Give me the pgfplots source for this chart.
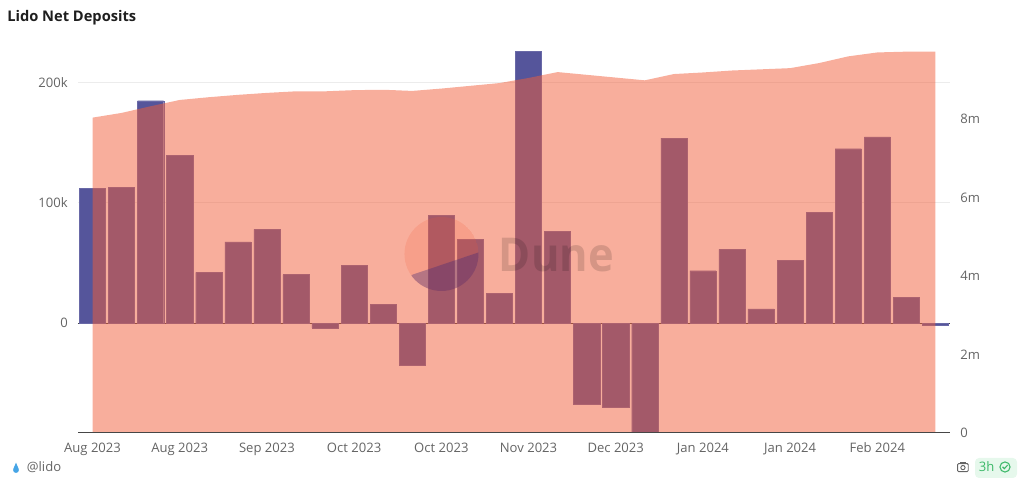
\documentclass[border=0pt]{standalone}
\usepackage{fontspec}
\setmainfont{Open Sans}
\usepackage{pgfplots}
\pgfplotsset{compat=1.18}
\usepackage{pgfplotstable}
\definecolor{barblue}{RGB}{85,85,155}
\definecolor{areacol}{RGB}{241,93,57}
\definecolor{labgray}{RGB}{100,100,100}
\definecolor{gridgray}{RGB}{236,236,236}
\definecolor{axline}{RGB}{70,70,70}
\definecolor{titlecol}{RGB}{30,30,30}
\definecolor{badgebg}{RGB}{230,248,236}
\definecolor{badgefg}{RGB}{60,185,105}
\definecolor{dropcol}{RGB}{70,165,230}
\definecolor{wmpurple}{RGB}{60,40,120}

\pgfplotstableread{
x y
0 112.2
1 113.0
2 185.0
3 139.6
4 42.4
5 67.6
6 78.1
7 40.4
8 -3.9
9 48.2
10 16.0
11 -35.2
12 90.0
13 69.8
14 24.9
15 225.8
16 76.5
17 -67.3
18 -69.8
19 -120.0
20 154.0
21 43.7
22 61.5
23 11.9
24 52.4
25 92.3
26 145.1
27 154.9
28 21.6
29 -2.0
}\bars

\pgfplotstableread{
x y
0 8.03
1 8.15
2 8.32
3 8.48
4 8.55
5 8.61
6 8.66
7 8.70
8 8.70
9 8.73
10 8.74
11 8.71
12 8.77
13 8.84
14 8.91
15 9.04
16 9.19
17 9.12
18 9.05
19 8.98
20 9.14
21 9.18
22 9.23
23 9.26
24 9.29
25 9.42
26 9.59
27 9.69
28 9.71
29 9.71
}\total

\begin{document}
\begin{tikzpicture}
\path[use as bounding box] (0,0) rectangle (768pt,363pt);
\pgfplotsset{
  commonax/.style={
    at={(58.5pt,38.25pt)}, anchor=south west,
    width=654pt, height=286pt, scale only axis,
    xmin=-0.5, xmax=29.5,
    axis line style={draw=none},
    major tick length=0pt,
    tick label style={font=\fontsize{9.8}{11}\selectfont, text=labgray, inner sep=0pt},
    clip=true,
  }
}
\begin{axis}[commonax,
  ymin=-91.2, ymax=225.8,
  ytick={0,100,200}, yticklabels={0,100k,200k},
  yticklabel style={anchor=east, xshift=-7.5pt},
  ymajorgrids, grid style={draw=gridgray, line width=0.75pt},
  xtick={0,3,...,27},
  xticklabels={Aug 2023,Aug 2023,Sep 2023,Oct 2023,Oct 2023,Nov 2023,Dec 2023,Jan 2024,Jan 2024,Feb 2024},
  xticklabel style={anchor=north, yshift=-7pt},
]
\draw[axline, line width=0.8pt] (axis cs:-0.5,0) -- (axis cs:29.5,0);
\addplot[ybar, bar width=0.9, fill=barblue, draw=barblue!88!white, line width=0.3pt] table[x=x,y=y]{\bars};
\end{axis}
\begin{axis}[commonax,
  ymin=0, ymax=9.71,
  ytick={0,2,4,6,8}, yticklabels={0,2m,4m,6m,8m},
  yticklabel pos=right,
  yticklabel style={anchor=west, xshift=7.5pt},
  xtick=\empty,
]
\addplot[fill=areacol, fill opacity=0.5, draw=none] table[x=x,y=y]{\total} \closedcycle;
\draw[axline, line width=0.8pt] (axis cs:-0.5,0) -- (axis cs:29.5,0);
\end{axis}
% watermark
\begin{scope}
\clip (331.1pt,172.5pt) circle (27.75pt);
\fill[areacol, opacity=0.18] (331.1pt,172.5pt) circle (27.75pt);
\fill[wmpurple, opacity=0.35] (308.8pt,156.8pt) -- (359.3pt,173.8pt) -- (365pt,130pt) -- (300pt,130pt) -- cycle;
\end{scope}
\node[anchor=base west, inner sep=0pt, text=black, opacity=0.14, font=\bfseries\fontsize{35}{40}\selectfont, xscale=0.93] at (374pt,159.2pt) {Dune};
% title
\node[anchor=base west, inner sep=0pt, text=titlecol, font=\bfseries\fontsize{11}{13}\selectfont] at (5.25pt,346.7pt) {Lido Net Deposits};
% footer left
\fill[dropcol] (12pt,10.5pt) circle (2.2pt);
\fill[dropcol] (10.1pt,11.6pt) -- (12pt,16pt) -- (13.9pt,11.6pt) -- cycle;
\node[anchor=base west, inner sep=0pt, text=labgray, font=\fontsize{9.8}{11}\selectfont] at (20pt,9pt) {@lido};
% footer right
\draw[labgray, line width=0.7pt, rounded corners=0.8pt] (718.2pt,9.3pt) rectangle (726.2pt,15.3pt);
\draw[labgray, line width=0.7pt] (722.2pt,12.3pt) circle (1.6pt);
\fill[labgray] (720.2pt,15.3pt) rectangle (724.2pt,16.5pt);
\fill[badgebg, rounded corners=3pt] (731.25pt,4.5pt) rectangle (762.75pt,19.5pt);
\node[anchor=base west, inner sep=0pt, text=badgefg, font=\fontsize{9.8}{11}\selectfont] at (734pt,9pt) {3h};
\draw[badgefg, line width=0.8pt] (753.75pt,12.75pt) circle (3.8pt);
\draw[badgefg, line width=0.8pt] (751.9pt,12.9pt) -- (753.3pt,11.5pt) -- (755.7pt,14.2pt);
\end{tikzpicture}
\end{document}
